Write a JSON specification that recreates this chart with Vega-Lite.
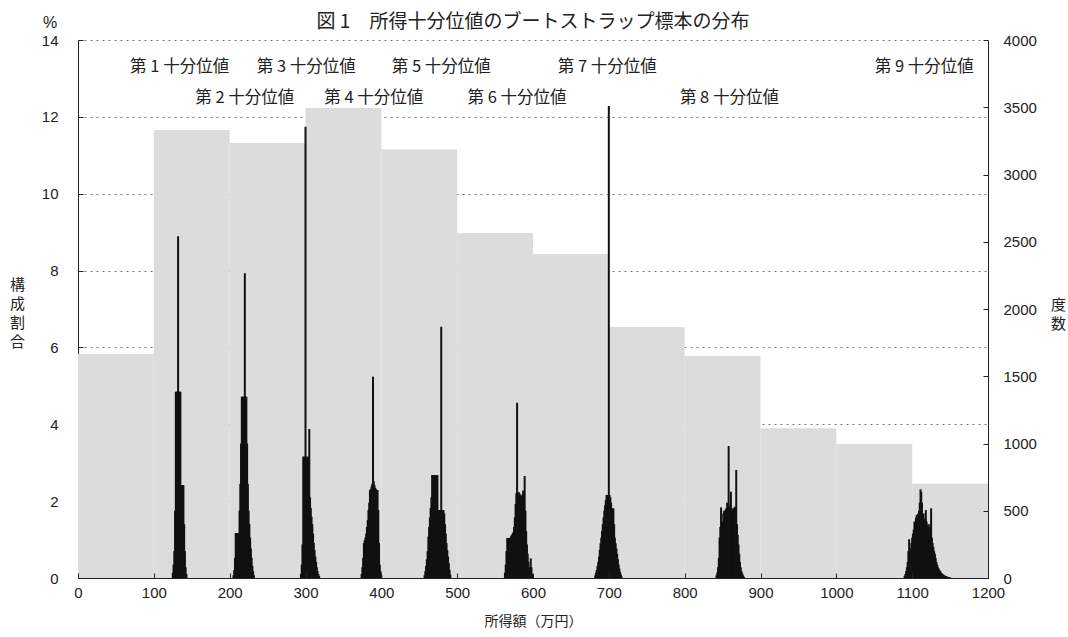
{
  "$schema": "https://vega.github.io/schema/vega-lite/v6.json",
  "width": 910,
  "height": 538,
  "autosize": {"type": "none"},
  "padding": {"left": 78, "top": 40, "right": 80, "bottom": 59},
  "background": "white",
  "config": {
    "font": "Noto Sans CJK JP",
    "view": {"stroke": null},
    "axis": {
      "labelFont": "Liberation Sans",
      "labelFontSize": 15,
      "labelColor": "#222",
      "titleFont": "Noto Sans CJK JP",
      "titleFontSize": 15,
      "titleFontWeight": "normal",
      "titleColor": "#222",
      "domainColor": "#222",
      "tickColor": "#222",
      "labelFlush": false,
      "labelOverlap": false
    }
  },
  "title": {
    "text": "図 1　所得十分位値のブートストラップ標本の分布",
    "font": "Noto Sans CJK JP",
    "fontSize": 19,
    "fontWeight": "normal",
    "color": "#222",
    "anchor": "middle",
    "frame": "group",
    "offset": 0,
    "dy": 17
  },
  "datasets": {
    "hist": [
      {"lo": 0, "hi": 100, "pct": 5.83},
      {"lo": 100, "hi": 200, "pct": 11.66},
      {"lo": 200, "hi": 300, "pct": 11.32},
      {"lo": 300, "hi": 400, "pct": 12.23},
      {"lo": 400, "hi": 500, "pct": 11.16},
      {"lo": 500, "hi": 600, "pct": 8.98},
      {"lo": 600, "hi": 700, "pct": 8.43},
      {"lo": 700, "hi": 800, "pct": 6.53},
      {"lo": 800, "hi": 900, "pct": 5.78},
      {"lo": 900, "hi": 1000, "pct": 3.90},
      {"lo": 1000, "hi": 1100, "pct": 3.49},
      {"lo": 1100, "hi": 1200, "pct": 2.45}
    ],
    "labels": [
      {"label": "第 1 十分位値", "x": 134, "y": 13.3},
      {"label": "第 2 十分位値", "x": 220, "y": 12.49},
      {"label": "第 3 十分位値", "x": 301, "y": 13.3},
      {"label": "第 4 十分位値", "x": 390, "y": 12.49},
      {"label": "第 5 十分位値", "x": 479, "y": 13.3},
      {"label": "第 6 十分位値", "x": 579, "y": 12.49},
      {"label": "第 7 十分位値", "x": 698, "y": 13.3},
      {"label": "第 8 十分位値", "x": 859, "y": 12.49},
      {"label": "第 9 十分位値", "x": 1116, "y": 13.3}
    ],
    "unit": [{"x": 0, "y": 14, "t": "%"}],
    "boot": [
      {"v":125,"f":40},{"v":126,"f":100},{"v":127,"f":200},{"v":128,"f":500},{"v":129,"f":1385},{"v":130,"f":1385},{"v":131,"f":1385},{"v":132,"f":2540},{"v":133,"f":1385},{"v":134,"f":1385},{"v":135,"f":1385},{"v":136,"f":690},{"v":137,"f":690},{"v":138,"f":690},{"v":139,"f":690},{"v":140,"f":400},{"v":141,"f":200},{"v":142,"f":80},{"v":143,"f":30},
      {"v":205,"f":20},{"v":206,"f":60},{"v":207,"f":150},{"v":208,"f":334},{"v":209,"f":334},{"v":210,"f":334},{"v":211,"f":334},{"v":212,"f":334},{"v":213,"f":500},{"v":214,"f":700},{"v":215,"f":1000},{"v":216,"f":1348},{"v":217,"f":1348},{"v":218,"f":1348},{"v":219,"f":1348},{"v":220,"f":2265},{"v":221,"f":1348},{"v":222,"f":1348},{"v":223,"f":1000},{"v":224,"f":700},{"v":225,"f":500},{"v":226,"f":400},{"v":227,"f":300},{"v":228,"f":220},{"v":229,"f":150},{"v":230,"f":90},{"v":231,"f":50},{"v":232,"f":20},
      {"v":294,"f":30},{"v":295,"f":100},{"v":296,"f":250},{"v":297,"f":902},{"v":298,"f":902},{"v":299,"f":902},{"v":300,"f":3355},{"v":301,"f":902},{"v":302,"f":902},{"v":303,"f":850},{"v":304,"f":902},{"v":305,"f":1108},{"v":306,"f":600},{"v":307,"f":520},{"v":308,"f":456},{"v":309,"f":400},{"v":310,"f":330},{"v":311,"f":260},{"v":312,"f":208},{"v":313,"f":160},{"v":314,"f":120},{"v":315,"f":80},{"v":316,"f":50},{"v":317,"f":30},{"v":318,"f":15},
      {"v":374,"f":30},{"v":375,"f":80},{"v":376,"f":150},{"v":377,"f":260},{"v":378,"f":280},{"v":379,"f":300},{"v":380,"f":330},{"v":381,"f":380},{"v":382,"f":430},{"v":383,"f":505},{"v":384,"f":560},{"v":385,"f":654},{"v":386,"f":660},{"v":387,"f":680},{"v":388,"f":700},{"v":389,"f":1497},{"v":390,"f":720},{"v":391,"f":690},{"v":392,"f":670},{"v":393,"f":660},{"v":394,"f":654},{"v":395,"f":654},{"v":396,"f":505},{"v":397,"f":260},{"v":398,"f":100},{"v":399,"f":50},{"v":400,"f":20},
      {"v":457,"f":20},{"v":458,"f":50},{"v":459,"f":90},{"v":460,"f":140},{"v":461,"f":200},{"v":462,"f":307},{"v":463,"f":380},{"v":464,"f":450},{"v":465,"f":520},{"v":466,"f":600},{"v":467,"f":766},{"v":468,"f":766},{"v":469,"f":766},{"v":470,"f":766},{"v":471,"f":766},{"v":472,"f":766},{"v":473,"f":766},{"v":474,"f":766},{"v":475,"f":505},{"v":476,"f":505},{"v":477,"f":505},{"v":478,"f":505},{"v":479,"f":1868},{"v":480,"f":505},{"v":481,"f":505},{"v":482,"f":505},{"v":483,"f":480},{"v":484,"f":400},{"v":485,"f":330},{"v":486,"f":260},{"v":487,"f":208},{"v":488,"f":160},{"v":489,"f":110},{"v":490,"f":60},{"v":491,"f":25},
      {"v":563,"f":40},{"v":564,"f":100},{"v":565,"f":200},{"v":566,"f":297},{"v":567,"f":297},{"v":568,"f":297},{"v":569,"f":297},{"v":570,"f":300},{"v":571,"f":310},{"v":572,"f":320},{"v":573,"f":330},{"v":574,"f":340},{"v":575,"f":380},{"v":576,"f":450},{"v":577,"f":550},{"v":578,"f":630},{"v":579,"f":1303},{"v":580,"f":630},{"v":581,"f":640},{"v":582,"f":630},{"v":583,"f":620},{"v":584,"f":610},{"v":585,"f":600},{"v":586,"f":620},{"v":587,"f":650},{"v":588,"f":640},{"v":589,"f":758},{"v":590,"f":500},{"v":591,"f":350},{"v":592,"f":250},{"v":593,"f":180},{"v":594,"f":120},{"v":595,"f":80},{"v":596,"f":60},{"v":597,"f":146},{"v":598,"f":80},{"v":599,"f":30},
      {"v":682,"f":20},{"v":683,"f":40},{"v":684,"f":60},{"v":685,"f":90},{"v":686,"f":120},{"v":687,"f":160},{"v":688,"f":210},{"v":689,"f":258},{"v":690,"f":300},{"v":691,"f":350},{"v":692,"f":400},{"v":693,"f":450},{"v":694,"f":500},{"v":695,"f":540},{"v":696,"f":580},{"v":697,"f":617},{"v":698,"f":617},{"v":699,"f":617},{"v":700,"f":3509},{"v":701,"f":617},{"v":702,"f":600},{"v":703,"f":560},{"v":704,"f":500},{"v":705,"f":518},{"v":706,"f":518},{"v":707,"f":400},{"v":708,"f":300},{"v":709,"f":258},{"v":710,"f":220},{"v":711,"f":180},{"v":712,"f":140},{"v":713,"f":100},{"v":714,"f":70},{"v":715,"f":45},{"v":716,"f":25},{"v":717,"f":10},
      {"v":842,"f":20},{"v":843,"f":40},{"v":844,"f":80},{"v":845,"f":150},{"v":846,"f":300},{"v":847,"f":380},{"v":848,"f":525},{"v":849,"f":300},{"v":850,"f":420},{"v":851,"f":480},{"v":852,"f":500},{"v":853,"f":490},{"v":854,"f":510},{"v":855,"f":520},{"v":856,"f":560},{"v":857,"f":500},{"v":858,"f":981},{"v":859,"f":520},{"v":860,"f":540},{"v":861,"f":642},{"v":862,"f":520},{"v":863,"f":500},{"v":864,"f":510},{"v":865,"f":520},{"v":866,"f":530},{"v":867,"f":520},{"v":868,"f":803},{"v":869,"f":400},{"v":870,"f":320},{"v":871,"f":250},{"v":872,"f":180},{"v":873,"f":120},{"v":874,"f":80},{"v":875,"f":50},{"v":876,"f":35},{"v":877,"f":20},{"v":878,"f":10},
      {"v":1090,"f":15},{"v":1091,"f":30},{"v":1092,"f":50},{"v":1093,"f":80},{"v":1094,"f":120},{"v":1095,"f":200},{"v":1096,"f":288},{"v":1097,"f":150},{"v":1098,"f":220},{"v":1099,"f":260},{"v":1100,"f":300},{"v":1101,"f":330},{"v":1102,"f":360},{"v":1103,"f":420},{"v":1104,"f":380},{"v":1105,"f":450},{"v":1106,"f":470},{"v":1107,"f":440},{"v":1108,"f":480},{"v":1109,"f":500},{"v":1110,"f":560},{"v":1111,"f":659},{"v":1112,"f":640},{"v":1113,"f":560},{"v":1114,"f":450},{"v":1115,"f":480},{"v":1116,"f":440},{"v":1117,"f":430},{"v":1118,"f":505},{"v":1119,"f":420},{"v":1120,"f":380},{"v":1121,"f":400},{"v":1122,"f":380},{"v":1123,"f":360},{"v":1124,"f":400},{"v":1125,"f":518},{"v":1126,"f":300},{"v":1127,"f":260},{"v":1128,"f":230},{"v":1129,"f":200},{"v":1130,"f":180},{"v":1131,"f":150},{"v":1132,"f":120},{"v":1133,"f":100},{"v":1134,"f":80},{"v":1135,"f":70},{"v":1136,"f":60},{"v":1137,"f":50},{"v":1138,"f":40},{"v":1139,"f":35},{"v":1140,"f":30},{"v":1141,"f":25},{"v":1142,"f":20},{"v":1143,"f":18},{"v":1144,"f":15},{"v":1145,"f":12},{"v":1146,"f":10},{"v":1147,"f":8},{"v":1148,"f":6},{"v":1149,"f":5},{"v":1150,"f":4}
    ]
  },
  "layer": [
    {
      "layer": [
        {
          "data": {"name": "hist"},
          "mark": {"type": "rect", "fill": "#dcdcdc", "opacity": 1},
          "encoding": {
            "x": {
              "field": "lo", "type": "quantitative",
              "scale": {"domain": [0, 1200], "nice": false, "zero": false},
              "axis": {
                "title": "所得額（万円）",
                "values": [0,50,100,150,200,250,300,350,400,450,500,550,600,650,700,750,800,850,900,950,1000,1050,1100,1150,1200],
                "labelExpr": "datum.value % 100 == 0 ? datum.label : ''",
                "format": "d",
                "grid": false,
                "tickSize": -5,
                "labelPadding": 12,
                "titlePadding": 14,
                "titleFontSize": 14,
                "zindex": 1
              }
            },
            "x2": {"field": "hi"},
            "y": {
              "field": "pct", "type": "quantitative",
              "scale": {"domain": [0, 14], "nice": false},
              "axis": {
                "orient": "left",
                "values": [0,2,4,6,8,10,12,14],
                "grid": true,
                "gridDash": [2, 4],
                "gridColor": "#777",
                "gridWidth": 1,
                "tickSize": -5,
                "labelPadding": 25,
                "title": ["構", "成", "割", "合"],
                "titleAngle": 0,
                "titleX": -61,
                "titleY": 244,
                "titleAlign": "center",
                "titleBaseline": "middle",
                "titleLineHeight": 19,
                "titleFontSize": 15,
                "zindex": 0
              }
            },
            "y2": {"datum": 0}
          }
        },
        {
          "data": {"name": "labels"},
          "mark": {"type": "text", "fontSize": 16.5, "font": "Noto Sans CJK JP", "align": "center", "baseline": "middle", "color": "#222"},
          "encoding": {
            "x": {"field": "x", "type": "quantitative"},
            "y": {"field": "y", "type": "quantitative"},
            "text": {"field": "label"}
          }
        },
        {
          "data": {"name": "unit"},
          "mark": {"type": "text", "fontSize": 16, "font": "Liberation Sans", "align": "center", "baseline": "middle", "dx": -28, "dy": -17, "color": "#222"},
          "encoding": {
            "x": {"field": "x", "type": "quantitative"},
            "y": {"field": "y", "type": "quantitative"},
            "text": {"field": "t"}
          }
        }
      ]
    },
    {
      "data": {"name": "boot"},
      "mark": {"type": "rule", "strokeWidth": 2, "color": "#111", "opacity": 1},
      "encoding": {
        "x": {"field": "v", "type": "quantitative"},
        "y": {
          "field": "f", "type": "quantitative",
          "scale": {"domain": [0, 4000], "nice": false},
          "axis": {
            "orient": "right",
            "values": [0,500,1000,1500,2000,2500,3000,3500,4000],
            "format": "d",
            "grid": false,
            "tickSize": -5,
            "labelPadding": 20,
            "title": ["度", "数"],
            "titleAngle": 0,
            "titleX": 70,
            "titleY": 264,
            "titleAlign": "center",
            "titleBaseline": "middle",
            "titleLineHeight": 19,
            "titleFontSize": 15,
            "zindex": 1
          }
        },
        "y2": {"datum": 0}
      }
    }
  ],
  "resolve": {"scale": {"y": "independent"}}
}
